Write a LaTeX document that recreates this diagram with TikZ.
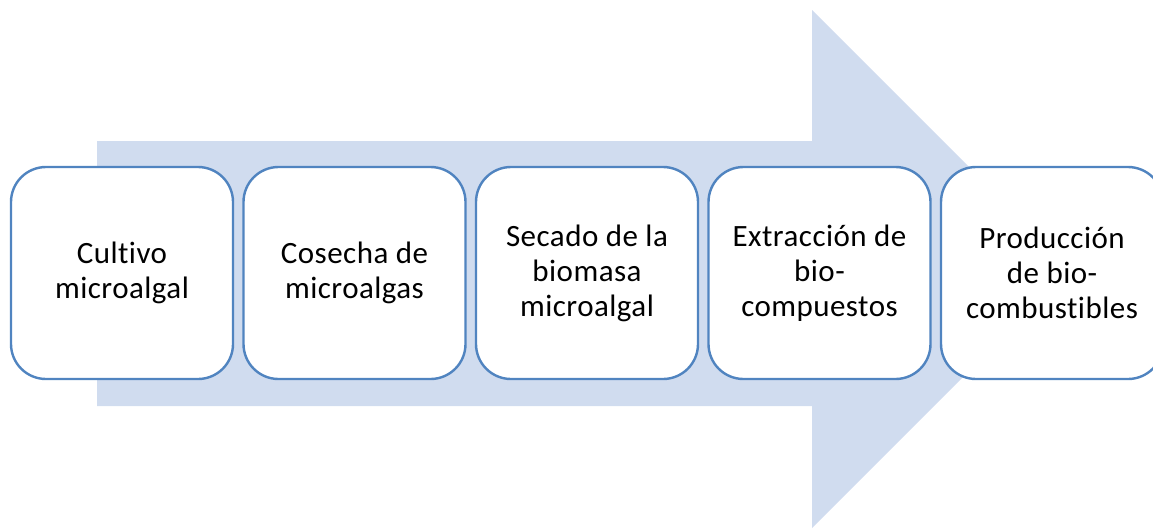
\documentclass[tikz,border=0pt]{standalone}
\usepackage{fontspec}
\setmainfont{Carlito}[LetterSpace=1.5,Ligatures={NoCommon,NoRare,NoContextual}]
\definecolor{arrowfill}{RGB}{208,220,239}
\definecolor{boxline}{RGB}{80,132,192}
\begin{document}
\begin{tikzpicture}[x=1pt,y=-1pt,
  stepbox/.style={draw=boxline, line width=2.4pt, fill=white, rounded corners=35pt,
    minimum width=222pt, minimum height=212pt, inner sep=0pt, align=center,
    font=\fontsize{31}{35}\selectfont, anchor=center}]
\useasboundingbox (0,0) rectangle (1153,531);
\clip (0,0) rectangle (1153,531);
\fill[arrowfill] (97,141) -- (812,141) -- (812,10) -- (1071,269) -- (812,528) -- (812,406) -- (97,406) -- cycle;
\node[stepbox] (s1) at (122,273) {Cultivo\\microalgal};
\node[stepbox] (s2) at (354.5,273) {Cosecha de\\microalgas};
\node[stepbox] (s3) at (587,273) {Secado de la\\biomasa\\microalgal};
\node[stepbox] (s4) at (819.5,273) {Extracción de\\bio-\\compuestos};
\node[stepbox] (s5) at (1052,273) {Producción\\de bio-\\combustibles};
\end{tikzpicture}
\end{document}
